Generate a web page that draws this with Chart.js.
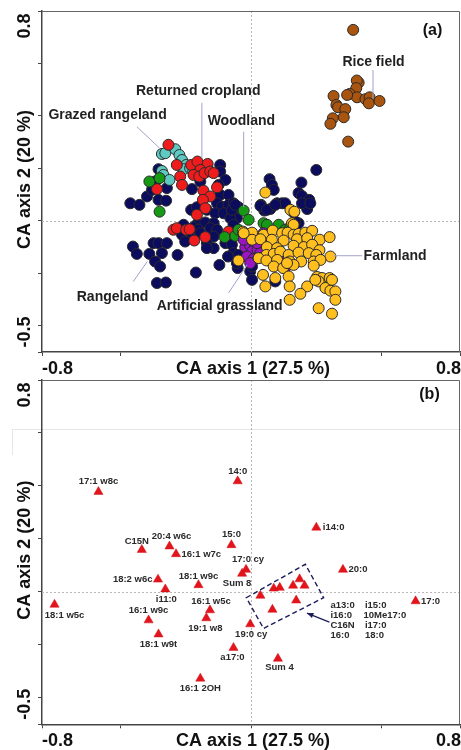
<!DOCTYPE html>
<html><head><meta charset="utf-8">
<script src="https://cdn.jsdelivr.net/npm/chart.js@4.4.1/dist/chart.umd.min.js"></script>
<style>
html,body{margin:0;padding:0;background:#fff;}
body{width:461px;height:750px;position:relative;overflow:hidden;}
#wa{position:absolute;left:0;top:0;width:461px;height:380px;}
#wb{position:absolute;left:0;top:370px;width:461px;height:380px;}
</style></head><body>
<div id="wa"><canvas id="ca" width="461" height="380"></canvas></div>
<div id="wb"><canvas id="cb" width="461" height="380"></canvas></div>
<script>
// ---------- axes ----------
const xMin = -0.8, xMax = 0.8, yMin = -0.5, yMax = 0.8;
const xTickValues = [-0.8, -0.5, 0, 0.5, 0.8];
const yTickValues = [-0.5, -0.4, -0.2, 0, 0.2, 0.4, 0.6, 0.8];
const xTickLabels = ['-0.8', '0.8'];
const yTickLabels = ['-0.5', '0.8'];
const xTitle = 'CA axis 1 (27.5 %)';
const yTitle = 'CA axis 2 (20 %)';

// ---------- panel (a): site scores ----------
const riceField = [[0.391,0.728],[0.412,0.527],[0.405,0.535],[0.403,0.506],[0.378,0.484],[0.406,0.471],[0.438,0.464],[0.454,0.471],[0.451,0.448],[0.492,0.457],[0.316,0.476],[0.327,0.442],[0.333,0.433],[0.361,0.426],[0.355,0.395],[0.313,0.391],[0.304,0.370],[0.372,0.302],[0.368,0.480]];
const grazedRangeland = [[-0.341,0.255],[-0.328,0.258],[-0.290,0.273],[-0.274,0.251],[-0.264,0.232],[-0.248,0.213],[-0.258,0.197],[-0.233,0.201],[-0.341,0.190],[-0.335,0.175],[-0.312,0.156],[-0.221,0.188]];
const returnedCropland = [[-0.316,0.290],[-0.284,0.213],[-0.229,0.213],[-0.205,0.226],[-0.166,0.217],[-0.194,0.194],[-0.220,0.175],[-0.198,0.169],[-0.178,0.182],[-0.156,0.188],[-0.143,0.182],[-0.271,0.169],[-0.264,0.137],[-0.360,0.121],[-0.182,0.115],[-0.130,0.128],[-0.156,0.093],[-0.184,0.080],[-0.175,0.048],[-0.207,0.023],[-0.297,-0.034],[-0.284,-0.028],[-0.248,-0.034],[-0.235,-0.032],[-0.217,-0.075],[-0.175,-0.062],[-0.086,-0.041]];
const woodland = [[-0.389,0.150],[-0.350,0.163],[-0.350,0.035],[-0.028,0.039],[-0.009,0.004],[-0.101,-0.062],[-0.060,-0.057],[-0.048,-0.034],[0.048,-0.009],[0.061,-0.015],[0.106,-0.015],[0.131,-0.034],[0.151,-0.022],[-0.028,-0.053]];
const rangeland = [[-0.354,0.197],[-0.367,0.150],[-0.398,0.093],[-0.379,0.118],[-0.354,0.080],[-0.325,0.077],[-0.462,0.067],[-0.427,0.061],[-0.322,0.125],[-0.118,0.213],[-0.118,0.188],[-0.098,0.156],[-0.124,0.137],[-0.226,0.121],[-0.194,0.150],[-0.118,0.099],[-0.086,0.099],[-0.130,0.067],[-0.111,0.054],[-0.086,0.061],[-0.067,0.067],[-0.048,0.052],[-0.229,0.042],[-0.207,0.052],[-0.169,0.042],[-0.137,0.029],[-0.105,0.029],[-0.073,0.019],[-0.054,0.010],[-0.205,-0.011],[-0.175,-0.006],[-0.143,-0.009],[-0.258,-0.015],[-0.220,-0.024],[-0.201,-0.034],[-0.156,-0.028],[-0.130,-0.034],[-0.143,-0.060],[-0.098,-0.085],[-0.073,-0.091],[-0.233,-0.062],[-0.264,-0.053],[-0.252,-0.079],[-0.194,-0.047],[-0.169,-0.085],[-0.143,-0.104],[-0.067,-0.123],[-0.373,-0.085],[-0.354,-0.085],[-0.322,-0.085],[-0.452,-0.098],[-0.437,-0.126],[-0.389,-0.126],[-0.341,-0.123],[-0.367,-0.155],[-0.348,-0.174],[-0.360,-0.237],[-0.326,-0.235],[-0.281,-0.130],[-0.211,-0.197],[-0.121,-0.168],[-0.088,-0.136],[-0.051,-0.180],[-0.003,-0.193],[0.004,-0.225],[0.093,-0.231],[-0.169,-0.104],[-0.048,-0.130],[-0.054,-0.161],[0.004,-0.174],[-0.079,0.010],[-0.067,-0.015],[-0.073,0.042],[-0.060,0.061],[0.250,0.194],[0.071,0.159],[0.193,0.146],[0.080,0.137],[0.087,0.118],[0.182,0.106],[0.195,0.095],[0.223,0.080],[0.215,0.045],[0.038,0.061],[0.051,0.039],[0.074,0.045],[0.100,0.067],[0.119,0.067],[0.131,0.067],[0.163,0.032],[0.182,-0.009],[0.170,-0.003],[0.036,0.057],[0.061,0.042],[0.093,0.061],[0.195,0.067],[0.227,0.067]];
const farmland = [[0.055,0.108],[0.151,0.042],[0.166,0.035],[0.157,-0.009],[0.163,-0.015],[-0.031,-0.041],[0.004,-0.045],[0.048,-0.053],[0.083,-0.037],[0.119,-0.047],[0.140,-0.045],[0.163,-0.053],[0.182,-0.050],[0.208,-0.045],[0.234,-0.038],[0.004,-0.072],[0.036,-0.070],[0.080,-0.072],[0.125,-0.075],[0.176,-0.070],[0.215,-0.066],[0.263,-0.072],[0.301,-0.062],[0.061,-0.100],[0.100,-0.104],[0.163,-0.095],[0.202,-0.100],[0.234,-0.091],[0.262,-0.112],[0.059,-0.130],[0.087,-0.126],[0.112,-0.117],[0.144,-0.130],[0.182,-0.121],[0.221,-0.123],[0.250,-0.130],[0.304,-0.136],[0.029,-0.142],[0.059,-0.151],[0.100,-0.149],[0.148,-0.155],[0.192,-0.155],[0.240,-0.155],[0.266,-0.149],[-0.048,-0.151],[0.087,-0.174],[0.123,-0.180],[0.163,-0.168],[0.240,-0.171],[0.046,-0.206],[0.144,-0.212],[0.253,-0.214],[0.272,-0.218],[0.301,-0.218],[0.259,-0.231],[0.148,-0.250],[0.215,-0.250],[0.285,-0.256],[0.304,-0.266],[0.189,-0.278],[0.323,-0.269],[0.148,-0.301],[0.259,-0.333],[0.310,-0.354],[0.055,-0.250],[0.093,-0.218],[0.323,-0.301],[0.310,-0.225],[0.246,-0.225],[-0.028,-0.047],[0.138,-0.161]];
const artificialGrassland = [[-0.009,-0.066],[-0.022,-0.100],[-0.003,-0.095],[0.016,-0.091],[0.004,-0.117],[0.025,-0.110],[-0.015,-0.136],[0.010,-0.146],[0.036,-0.123],[-0.003,-0.161],[0.135,-0.174],[-0.028,-0.072],[0.023,-0.085],[0.029,-0.142],[0.048,-0.047],[0.074,-0.136],[0.112,-0.149],[0.106,-0.110]];

// annotation labels of panel (a), in data units
const siteLabels = ['Rice field','Returned cropland','Grazed rangeland','Woodland','Farmland','Rangeland','Artificial grassland'];
const siteLabelX = [0.469,-0.202,-0.549,-0.037,0.431,-0.530,-0.120];
const siteLabelY = [0.605,0.493,0.404,0.382,-0.133,-0.290,-0.324];
const siteLeaders = [
  [[0.467,0.575],[0.467,0.465]],
  [[-0.188,0.450],[-0.188,0.240]],
  [[-0.437,0.359],[-0.350,0.277]],
  [[-0.028,0.340],[-0.028,0.053]],
  [[0.316,-0.133],[0.426,-0.133]],
  [[-0.397,-0.155],[-0.451,-0.232]],
  [[-0.015,-0.168],[-0.086,-0.275]]
];

// ---------- panel (b): PLFA scores ----------
const acidNames = ['17:1 w8c','14:0','i14:0','15:0','C15N','20:4 w6c','16:1 w7c','17:0 cy','Sum 8','20:0','18:2 w6c','18:1 w9c','i11:0','18:1 w5c','16:1 w5c','17:0','16:1 w9c','19:1 w8','18:1 w9t','19:0 cy','a17:0','Sum 4','16:1 2OH'];
const acidX = [-0.584,-0.051,0.250,-0.075,-0.418,-0.312,-0.287,-0.019,-0.034,0.352,-0.356,-0.201,-0.328,-0.752,-0.157,0.630,-0.392,-0.171,-0.354,-0.003,-0.067,0.103,-0.194];
const acidY = [0.378,0.418,0.243,0.177,0.159,0.172,0.143,0.084,0.069,0.084,0.047,0.026,0.010,-0.048,-0.069,-0.035,-0.107,-0.099,-0.160,-0.122,-0.211,-0.252,-0.327];
const boxedNames = ['a13:0','i16:0','C16N','16:0','i15:0','10Me17:0','i17:0','18:0'];
const boxedX = [0.036,0.087,0.110,0.161,0.186,0.205,0.173,0.082];
const boxedY = [-0.014,0.013,0.016,0.024,0.048,0.024,-0.032,-0.067];
const boxCorners = [[-0.018,-0.022],[0.208,0.104],[0.278,-0.022],[0.048,-0.138]];
const boxArrow = [[0.300,-0.114],[0.214,-0.080]];
const boxLabelColumnsX = [0.304,0.436];
const boxLabelTopY = -0.050;

// label placement for panel (b): [dx, dy, textAlign]
const acidLabelPlace = {
  '17:1 w8c':[0,-10,'center'],'14:0':[0,-10,'center'],'i14:0':[6.5,0,'left'],'15:0':[0,-10.5,'center'],
  'C15N':[-5,-8.5,'center'],'20:4 w6c':[2,-10,'center'],'16:1 w7c':[5.5,0,'left'],'17:0 cy':[2,-10,'center'],
  'Sum 8':[-5,9.5,'center'],'20:0':[5.5,0,'left'],'18:2 w6c':[-5.5,0,'right'],'18:1 w9c':[0,-9,'center'],
  'i11:0':[1,10,'center'],'18:1 w5c':[10,11,'center'],'16:1 w5c':[1,-9,'center'],'17:0':[5.5,0,'left'],
  '16:1 w9c':[0,-9.5,'center'],'19:1 w8':[-1,10,'center'],'18:1 w9t':[0,10,'center'],'19:0 cy':[1,10,'center'],
  'a17:0':[-1,10,'center'],'Sum 4':[1.5,9,'center'],'16:1 2OH':[0,10,'center']
};

const FONT = '"Liberation Sans", Arial, Helvetica, sans-serif';

function vText(ctx, t, cx, cy){
  ctx.save(); ctx.translate(cx, cy); ctx.rotate(-Math.PI/2);
  ctx.textAlign='center'; ctx.textBaseline='middle'; ctx.fillText(t,0,0); ctx.restore();
}

function makeScales(xHeight){
  return {
    x: {
      type:'linear', min:xMin, max:xMax,
      afterBuildTicks: s => { s.ticks = xTickValues.map(v => ({value:v})); },
      ticks:{display:false},
      grid:{drawOnChartArea:false, drawTicks:true, tickLength:4, color:'#444', tickColor:'#444', lineWidth:1},
      border:{display:true, color:'#444', width:1.5},
      afterFit: s => { s.height = xHeight; }
    },
    y: {
      type:'linear', min:yMin, max:yMax,
      afterBuildTicks: s => { s.ticks = yTickValues.map(v => ({value:v})); },
      ticks:{display:false},
      grid:{drawOnChartArea:false, drawTicks:true, tickLength:4, color:'#444', tickColor:'#444', lineWidth:1},
      border:{display:true, color:'#444', width:1.5},
      afterFit: s => { s.width = 42; }
    }
  };
}

function decorPlugin(letter, lx, ldy){
  return {
    id:'decor'+letter,
    beforeDatasetsDraw(chart){
      const {ctx, chartArea:a, scales:{x,y}} = chart;
      ctx.save();
      ctx.strokeStyle='#b8b8b8'; ctx.lineWidth=1; ctx.setLineDash([2,2]);
      const x0=Math.round(x.getPixelForValue(0))+0.5, y0=Math.round(y.getPixelForValue(0))+0.5;
      ctx.beginPath(); ctx.moveTo(x0,a.top); ctx.lineTo(x0,a.bottom);
      ctx.moveTo(a.left,y0); ctx.lineTo(a.right,y0); ctx.stroke();
      ctx.setLineDash([]);
      ctx.strokeStyle='#666'; ctx.lineWidth=1;
      ctx.beginPath(); ctx.moveTo(a.left,a.top+0.5); ctx.lineTo(a.right-0.5,a.top+0.5); ctx.lineTo(a.right-0.5,a.bottom); ctx.stroke();
      ctx.restore();
    },
    afterDraw(chart){
      const {ctx, chartArea:a, scales:{x,y}} = chart;
      ctx.save();
      ctx.fillStyle='#111'; ctx.font='bold 18px '+FONT; ctx.textBaseline='middle';
      const ly = a.bottom + 17;
      ctx.textAlign='left'; ctx.fillText(xTickLabels[0], x.getPixelForValue(xMin), ly);
      ctx.textAlign='right'; ctx.fillText(xTickLabels[1], x.getPixelForValue(xMax)+1, ly);
      ctx.textAlign='center'; ctx.fillText(xTitle, x.getPixelForValue(0)+2, ly);
      vText(ctx, yTickLabels[1], 25.5, y.getPixelForValue(yMax)+15);
      vText(ctx, yTickLabels[0], 25.5, y.getPixelForValue(yMin)-20);
      vText(ctx, yTitle, 25.5, (a.top+a.bottom)/2 - 2);
      ctx.font='bold 16px '+FONT; ctx.textAlign='center';
      ctx.fillText('('+letter+')', lx, a.top+ldy);
      ctx.restore();
    }
  };
}

const siteAnnot = {
  id:'siteAnnot',
  afterDatasetsDraw(chart){
    const {ctx, scales:{x,y}} = chart;
    ctx.save();
    ctx.strokeStyle='#a2a2cc'; ctx.lineWidth=1;
    siteLeaders.forEach(seg => {
      ctx.beginPath();
      ctx.moveTo(x.getPixelForValue(seg[0][0]), y.getPixelForValue(seg[0][1]));
      ctx.lineTo(x.getPixelForValue(seg[1][0]), y.getPixelForValue(seg[1][1]));
      ctx.stroke();
    });
    ctx.fillStyle='#222'; ctx.font='bold 14px '+FONT; ctx.textBaseline='middle';
    siteLabels.forEach((t,i) => {
      ctx.textAlign = (t === 'Farmland') ? 'left' : 'center';
      ctx.fillText(t, x.getPixelForValue(siteLabelX[i]), y.getPixelForValue(siteLabelY[i]));
    });
    ctx.restore();
  }
};

const pts = d => d.map(p => ({x:p[0], y:p[1]}));
function siteSet(label, data, color, order){
  return {label, data:pts(data), backgroundColor:color, borderColor:'#2a2a2a', borderWidth:1,
          pointRadius:5.5, pointHoverRadius:5.5, order};
}

new Chart(document.getElementById('ca'), {
  type:'scatter',
  data:{datasets:[
    siteSet('Rice field', riceField, '#a9540f', 0),
    siteSet('Farmland', farmland, '#ffbf1f', 1),
    siteSet('Artificial grassland', artificialGrassland, '#9a14c4', 2),
    siteSet('Woodland', woodland, '#169a16', 3),
    siteSet('Returned cropland', returnedCropland, '#ee1c1c', 4),
    siteSet('Grazed rangeland', grazedRangeland, '#5ecac2', 5),
    siteSet('Rangeland', rangeland, '#0c0c5e', 6)
  ]},
  options:{
    responsive:false, animation:false, events:[],
    layout:{padding:{top:11, right:1, left:0, bottom:0}, autoPadding:false},
    plugins:{legend:{display:false}, tooltip:{enabled:false}},
    scales: makeScales(28)
  },
  plugins:[decorPlugin('a', 432.5, 20), siteAnnot]
});

const acidAnnot = {
  id:'acidAnnot',
  beforeDraw(chart){
    const {ctx} = chart;
    ctx.save(); ctx.strokeStyle='#e6e6e6'; ctx.lineWidth=1;
    ctx.beginPath(); ctx.moveTo(12,59.5); ctx.lineTo(461,59.5); ctx.moveTo(12.5,59.5); ctx.lineTo(12.5,85); ctx.stroke();
    ctx.restore();
  },
  afterDatasetsDraw(chart){
    const {ctx, scales:{x,y}} = chart;
    ctx.save();
    // dashed box
    ctx.strokeStyle='#1c1c5a'; ctx.lineWidth=1.4; ctx.setLineDash([5,3]);
    ctx.beginPath();
    boxCorners.forEach((c,i) => {
      const px=x.getPixelForValue(c[0]), py=y.getPixelForValue(c[1]);
      if(i===0) ctx.moveTo(px,py); else ctx.lineTo(px,py);
    });
    ctx.closePath(); ctx.stroke(); ctx.setLineDash([]);
    // arrow
    const ax0=x.getPixelForValue(boxArrow[0][0]), ay0=y.getPixelForValue(boxArrow[0][1]);
    const ax1=x.getPixelForValue(boxArrow[1][0]), ay1=y.getPixelForValue(boxArrow[1][1]);
    ctx.lineWidth=1.3; ctx.beginPath(); ctx.moveTo(ax0,ay0); ctx.lineTo(ax1,ay1); ctx.stroke();
    const ang=Math.atan2(ay1-ay0, ax1-ax0);
    ctx.fillStyle='#1c1c5a'; ctx.beginPath();
    ctx.moveTo(ax1,ay1);
    ctx.lineTo(ax1-7*Math.cos(ang-0.4), ay1-7*Math.sin(ang-0.4));
    ctx.lineTo(ax1-7*Math.cos(ang+0.4), ay1-7*Math.sin(ang+0.4));
    ctx.closePath(); ctx.fill();
    // labels
    ctx.fillStyle='#2a2a2a'; ctx.font='bold 9.5px '+FONT; ctx.textBaseline='middle';
    acidNames.forEach((n,i) => {
      const pl = acidLabelPlace[n];
      ctx.textAlign = pl[2];
      ctx.fillText(n, x.getPixelForValue(acidX[i])+pl[0], y.getPixelForValue(acidY[i])+pl[1]);
    });
    ctx.textAlign='left';
    const ty = y.getPixelForValue(boxLabelTopY);
    boxedNames.forEach((n,i) => {
      const col = Math.floor(i/4), row = i%4;
      ctx.fillText(n, x.getPixelForValue(boxLabelColumnsX[col]) - (n==='10Me17:0'?1.5:0), ty + row*10);
    });
    ctx.restore();
  }
};

const triStyle = {backgroundColor:'#e3141b', borderColor:'#d01018', borderWidth:0.5, pointStyle:'triangle', pointRadius:5.3, pointHoverRadius:5.3};
new Chart(document.getElementById('cb'), {
  type:'scatter',
  data:{datasets:[
    Object.assign({label:'PLFA', data:acidX.map((v,i)=>({x:v, y:acidY[i]}))}, triStyle),
    Object.assign({label:'PLFA boxed', data:boxedX.map((v,i)=>({x:v, y:boxedY[i]}))}, triStyle)
  ]},
  options:{
    responsive:false, animation:false, events:[],
    layout:{padding:{top:10, right:1, left:0, bottom:0}, autoPadding:false},
    plugins:{legend:{display:false}, tooltip:{enabled:false}},
    scales: makeScales(25.7)
  },
  plugins:[decorPlugin('b', 429.5, 15), acidAnnot]
});
</script>
</body></html>
